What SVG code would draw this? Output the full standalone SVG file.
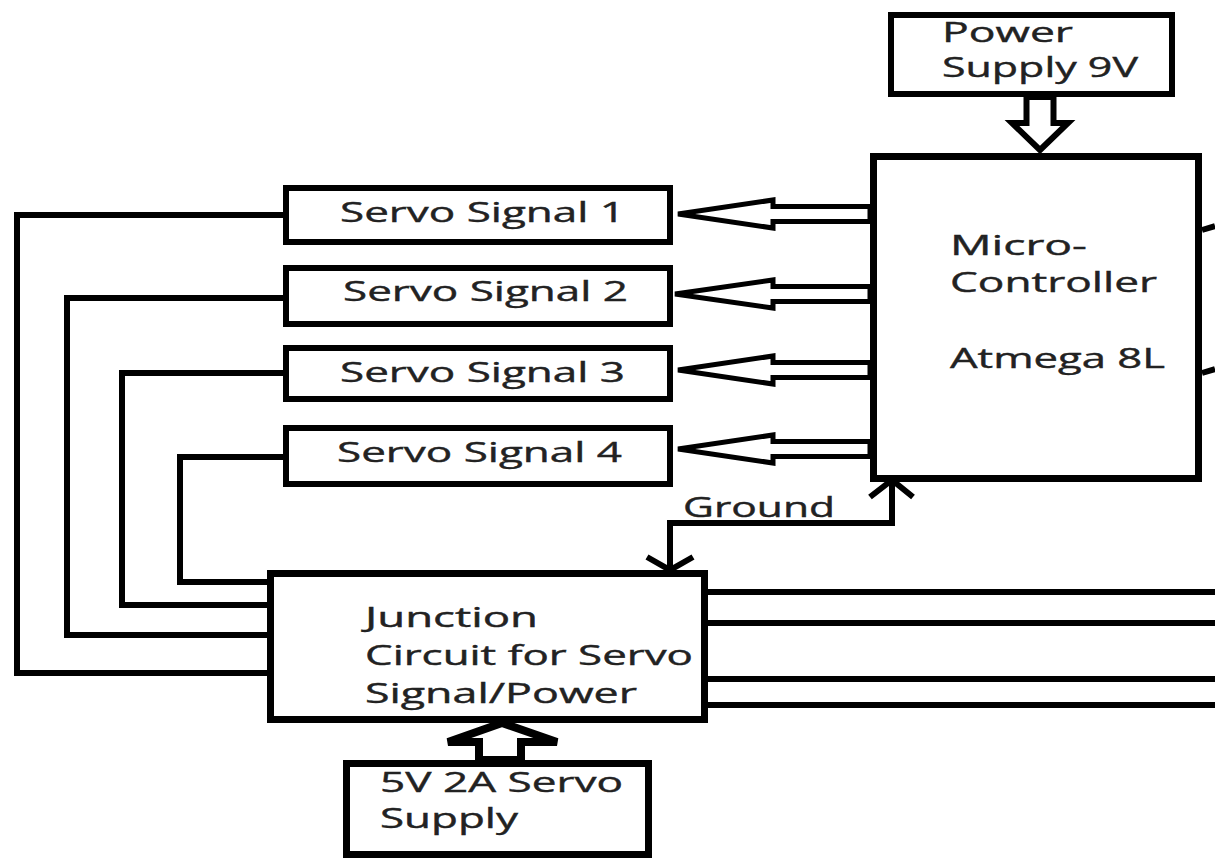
<svg xmlns="http://www.w3.org/2000/svg" width="1215" height="860" viewBox="0 0 1215 860">
<style>
.box{fill:#fff;stroke:#000;stroke-width:6}
.thick{stroke-width:7}
.wire{fill:none;stroke:#000;stroke-width:6;stroke-linejoin:miter}
.harrow{fill:#fff;stroke:#000;stroke-width:5;stroke-linejoin:miter}
.t{font-family:"Open Sans","Noto Sans",sans-serif;font-size:27px;fill:#222;stroke:#222;stroke-width:0.4}
</style>
<rect width="1215" height="860" fill="#fff"/>
<g id="connectors">
<path class="wire" d="M283,215 H17 V673 H268"/>
<path class="wire" d="M283,298 H67 V635 H268"/>
<path class="wire" d="M283,373 H122 V605 H268"/>
<path class="wire" d="M283,457 H180 V582 H268"/>
<path class="wire" d="M708,592 H1215 M708,623 H1215 M708,679 H1215 M708,705 H1215"/>
<path class="wire" d="M1202,230 L1215,226 M1202,373 L1215,369"/>
<path class="harrow" d="M1026.5,97 H1053.5 V123 H1068 L1040,150 L1012,123 H1026.5 Z" style="stroke-width:6"/>
<path class="harrow" d="M678,214 L773,200 V206.5 H870 V221.5 H773 V228 Z"/>
<path class="harrow" d="M675,294 L773,280 V286.5 H870 V301.5 H773 V308 Z"/>
<path class="harrow" d="M678,370 L773,356 V362.5 H870 V377.5 H773 V384 Z"/>
<path class="harrow" d="M678,449 L773,435 V441.5 H870 V456.5 H773 V463 Z"/>
<path class="harrow" d="M479,760 V742 H448 L502,723 L557,742 H521 V760 Z" style="stroke-width:8"/>
<path class="wire" d="M892,482 V523 H670 V570"/>
<path class="wire" d="M870,497 L892,480 L913,497 M647,557 L670,570 L693,557"/>
<text class="t" x="683" y="517" textLength="152" lengthAdjust="spacingAndGlyphs">Ground</text>
</g>
<g id="power-supply">
<rect class="box" x="891" y="15" width="281" height="79"/>
<text class="t" x="942" y="42" textLength="131" lengthAdjust="spacingAndGlyphs">Power</text>
<text class="t" x="942" y="77" textLength="196" lengthAdjust="spacingAndGlyphs">Supply 9V</text>
</g>
<g id="microcontroller">
<rect class="box thick" x="873.5" y="156.5" width="325" height="322"/>
<text class="t" x="950" y="255" textLength="137" lengthAdjust="spacingAndGlyphs">Micro-</text>
<text class="t" x="950" y="292" textLength="207" lengthAdjust="spacingAndGlyphs">Controller</text>
<text class="t" x="950" y="368" textLength="215" lengthAdjust="spacingAndGlyphs">Atmega 8L</text>
</g>
<g id="servo-signal-1">
<rect class="box" x="286" y="188" width="384" height="54"/>
<text class="t" x="340" y="222" textLength="285" lengthAdjust="spacingAndGlyphs">Servo Signal 1</text>
</g>
<g id="servo-signal-2">
<rect class="box" x="286" y="268" width="384" height="56"/>
<text class="t" x="343" y="301" textLength="285" lengthAdjust="spacingAndGlyphs">Servo Signal 2</text>
</g>
<g id="servo-signal-3">
<rect class="box" x="286" y="348" width="384" height="51"/>
<text class="t" x="340" y="382" textLength="285" lengthAdjust="spacingAndGlyphs">Servo Signal 3</text>
</g>
<g id="servo-signal-4">
<rect class="box" x="286" y="428" width="384" height="56"/>
<text class="t" x="337" y="462" textLength="285" lengthAdjust="spacingAndGlyphs">Servo Signal 4</text>
</g>
<g id="junction">
<rect class="box thick" x="270.5" y="573.5" width="434" height="146"/>
<text class="t" x="365" y="627" textLength="173" lengthAdjust="spacingAndGlyphs">Junction</text>
<text class="t" x="365" y="665" textLength="328" lengthAdjust="spacingAndGlyphs">Circuit for Servo</text>
<text class="t" x="365" y="703" textLength="272" lengthAdjust="spacingAndGlyphs">Signal/Power</text>
</g>
<g id="servo-supply">
<rect class="box thick" x="346.5" y="763.5" width="302" height="91"/>
<text class="t" x="380" y="792" textLength="243" lengthAdjust="spacingAndGlyphs">5V 2A Servo</text>
<text class="t" x="380" y="828" textLength="138" lengthAdjust="spacingAndGlyphs">Supply</text>
</g>
</svg>
